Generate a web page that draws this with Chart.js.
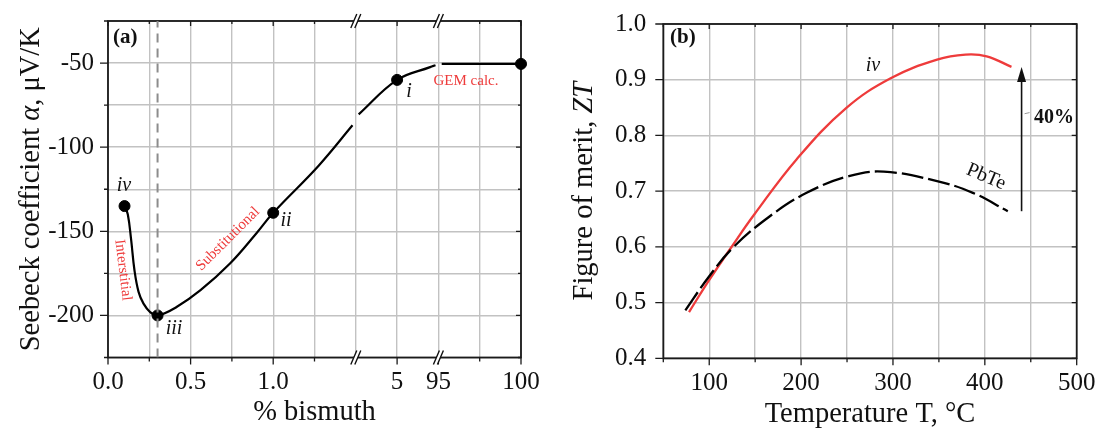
<!DOCTYPE html>
<html lang="en">
<head>
<meta charset="UTF-8">
<title>Seebeck coefficient and ZT of Bi-doped PbTe</title>
<script src="https://cdn.jsdelivr.net/npm/chart.js"></script>
<style>
    body { margin: 0; background: #fff; }
    #wrap { position: relative; width: 1102px; height: 431px; }
    canvas { position: absolute; top: 0; }
    #seebeckChart { left: 0; }
    #ztChart { left: 550px; }
</style>
</head>
<body>
<div id="wrap">
    <canvas id="seebeckChart" width="550" height="431"></canvas>
    <canvas id="ztChart" width="552" height="431"></canvas>
</div>
<script>
// (a) Seebeck coefficient against % bismuth (null = axis break)
const bismuthPct = [0.10, 0.12, 0.14, 0.16, 0.185, 0.215, 0.255, 0.30, 0.415, 0.56, 0.74, 0.90, 1.00, 1.275, 1.48, 1.5, 1.745, 5, 77, 88.7, 95, 95.2, 100];
const seebeck    = [-135, -140, -155, -173, -186, -193, -198, -200, -195, -185, -169, -151, -139, -111, -87, null, -80.5, -60, -52.4, -51.3, null, -50.5, -50.5];
const pointPct     = [0.10, 0.30, 1.00, 5, 100];
const pointSeebeck = [-135, -200, -139, -60, -50.5];
const xTickLabels  = ['0.0', '', '0.5', '', '1.0', '', '', '5', '95', '', '100'];
const solubilityPct = 0.3;

// (b) figure of merit against temperature
const tempIv   = [78, 99, 126, 149, 195, 249, 298, 348, 379, 402, 429];
const ztIv     = [0.483, 0.538, 0.604, 0.658, 0.757, 0.849, 0.903, 0.936, 0.945, 0.942, 0.923];
const tempPbTe = [74, 99, 126, 166, 206, 252, 290, 348, 387, 425];
const ztPbTe   = [0.486, 0.545, 0.599, 0.655, 0.697, 0.727, 0.735, 0.718, 0.697, 0.664];
const arrowT = 440, arrowFrom = 0.664, arrowTo = 0.923;

const SERIF = "'Liberation Serif', 'Times New Roman', serif";
const RED = '#ee3b3b';
Chart.defaults.font.family = SERIF;
Chart.defaults.color = '#111';

// broken axis: 0-1.5 % at 0.25 per division, 1.5-5 and 5-95 squeezed, 95-100 over two divisions
function axisPos(p) {
    if (p <= 1.5) return p / 0.25;
    if (p <= 5) return 6 + (p - 1.5) / 3.5;
    if (p <= 95) return 7 + (p - 5) / 90;
    return 8 + (p - 95) / 2.5;
}

function drawFrame(chart, majorX, majorY) {
    const { ctx, chartArea: a, scales: { x, y } } = chart;
    ctx.save();
    ctx.strokeStyle = '#1a1a1a';
    ctx.lineWidth = 1.3;
    ctx.beginPath();
    x.ticks.forEach(t => {
        const px = x.getPixelForValue(t.value);
        const big = majorX(t.value);
        ctx.moveTo(px, a.bottom); ctx.lineTo(px, a.bottom + (big ? 7 : 4));
        ctx.moveTo(px, a.top); ctx.lineTo(px, a.top + (big ? 5 : 3));
    });
    y.ticks.forEach(t => {
        const py = y.getPixelForValue(t.value);
        const big = majorY(t.value);
        ctx.moveTo(a.left, py); ctx.lineTo(a.left - (big ? 8 : 4), py);
        ctx.moveTo(a.right, py); ctx.lineTo(a.right - (big ? 5 : 3), py);
    });
    ctx.stroke();
    ctx.lineWidth = 1.8;
    ctx.strokeRect(a.left, a.top, a.right - a.left, a.bottom - a.top);
    ctx.restore();
}

function richText(ctx, parts, cx, cy, rot, align) {
    ctx.save();
    ctx.translate(cx, cy);
    ctx.rotate(rot || 0);
    ctx.textBaseline = 'middle';
    ctx.textAlign = 'left';
    let total = 0;
    parts.forEach(p => { ctx.font = p[1]; total += ctx.measureText(p[0]).width; });
    let x = align === 'left' ? 0 : -total / 2;
    parts.forEach(p => {
        ctx.font = p[1];
        ctx.fillStyle = p[2] || '#111';
        ctx.fillText(p[0], x, 0);
        x += ctx.measureText(p[0]).width;
    });
    ctx.restore();
}

function breakMark(ctx, x, y) {
    ctx.save();
    ctx.fillStyle = '#fff';
    ctx.beginPath();
    ctx.moveTo(x - 5, y + 7); ctx.lineTo(x + 1, y - 7);
    ctx.lineTo(x + 5, y - 7); ctx.lineTo(x - 1, y + 7);
    ctx.closePath();
    ctx.fill();
    ctx.strokeStyle = '#111';
    ctx.lineWidth = 1.4;
    ctx.beginPath();
    ctx.moveTo(x - 5, y + 7); ctx.lineTo(x + 1, y - 7);
    ctx.moveTo(x - 1, y + 7); ctx.lineTo(x + 5, y - 7);
    ctx.stroke();
    ctx.restore();
}

const gridStyle = { color: '#c2c2c2', lineWidth: 1.4, tickLength: 8, tickColor: 'rgba(0,0,0,0)' };
const tickFont = { family: SERIF, size: 25 };
const TITLE = '28.5px ' + SERIF, TITLE_IT = 'italic 28.5px ' + SERIF;

// ---------- (a) ----------
const seebeckPlugin = {
    id: 'seebeckDecor',
    beforeDatasetsDraw(chart) {
        drawFrame(chart, v => [0, 2, 4, 7, 8, 10].includes(Math.round(v)), v => v % 50 === 0);
    },
    afterDatasetsDraw(chart) {
        const { ctx, chartArea: a, scales: { x } } = chart;
        [6, 8].forEach(d => {
            breakMark(ctx, x.getPixelForValue(d), a.top);
            breakMark(ctx, x.getPixelForValue(d), a.bottom);
        });
        const it = 'italic 20px ' + SERIF;
        richText(ctx, [['(a)', 'bold 21px ' + SERIF]], 113, 38, 0, 'left');
        richText(ctx, [['iv', it]], 124, 186);
        richText(ctx, [['iii', it]], 174, 329);
        richText(ctx, [['ii', it]], 286, 221);
        richText(ctx, [['i', it]], 409, 92);
        const rf = '15px ' + SERIF;
        richText(ctx, [['GEM calc.', rf, RED]], 466, 81);
        richText(ctx, [['Interstitial', rf, RED]], 123, 270, 83 * Math.PI / 180);
        richText(ctx, [['Substitutional', rf, RED]], 228, 239, -45 * Math.PI / 180);
        richText(ctx, [['Seebeck coefficient ', TITLE], ['\u03b1', TITLE_IT], [', \u03bcV/K', TITLE]], 32, (a.top + a.bottom) / 2, -Math.PI / 2);
        richText(ctx, [['% bismuth', TITLE]], (a.left + a.right) / 2, 413);
    }
};

new Chart(document.getElementById('seebeckChart'), {
    type: 'line',
    data: {
        datasets: [
            {
                data: [{ x: axisPos(solubilityPct), y: -225 }, { x: axisPos(solubilityPct), y: -25 }],
                borderColor: '#8c8c8c', borderWidth: 2, borderDash: [9, 6], pointRadius: 0
            },
            {
                data: bismuthPct.map((p, i) => ({ x: axisPos(p), y: seebeck[i] })),
                borderColor: '#000', borderWidth: 2.2, pointRadius: 0,
                tension: 0.4, spanGaps: false
            },
            {
                data: pointPct.map((p, i) => ({ x: axisPos(p), y: pointSeebeck[i] })),
                showLine: false, pointRadius: 5.5, pointBackgroundColor: '#000',
                pointBorderColor: '#000', clip: false
            }
        ]
    },
    options: {
        responsive: false,
        animation: false,
        layout: { padding: { top: 21, right: 29, left: 0, bottom: 0 } },
        plugins: { legend: { display: false }, tooltip: { enabled: false } },
        scales: {
            x: {
                type: 'linear', min: 0, max: 10,
                grid: gridStyle, border: { display: false },
                ticks: {
                    stepSize: 1, autoSkip: false, maxRotation: 0, font: tickFont, padding: 2,
                    callback: v => xTickLabels[Math.round(v)]
                },
                afterFit: s => { s.height = 73.5; }
            },
            y: {
                min: -225, max: -25,
                grid: gridStyle, border: { display: false },
                ticks: {
                    stepSize: 25, font: tickFont, padding: 6,
                    callback: v => (v % 50 === 0 ? v : '')
                },
                afterFit: s => { s.width = 108; }
            }
        }
    },
    plugins: [seebeckPlugin]
});

// ---------- (b) ----------
const ztPlugin = {
    id: 'ztDecor',
    beforeDatasetsDraw(chart) {
        drawFrame(chart, v => v % 100 === 0, v => Math.round(v * 100) % 10 === 0);
    },
    afterDatasetsDraw(chart) {
        const { ctx, chartArea: a, scales: { x, y } } = chart;
        // arrow from PbTe to iv
        const ax = x.getPixelForValue(arrowT);
        const y0 = y.getPixelForValue(arrowFrom), y1 = y.getPixelForValue(arrowTo);
        ctx.save();
        ctx.strokeStyle = '#111';
        ctx.fillStyle = '#111';
        ctx.lineWidth = 1.6;
        ctx.beginPath();
        ctx.moveTo(ax, y0); ctx.lineTo(ax, y1 + 12);
        ctx.stroke();
        ctx.beginPath();
        ctx.moveTo(ax, y1); ctx.lineTo(ax - 4.5, y1 + 15); ctx.lineTo(ax + 4.5, y1 + 15);
        ctx.closePath();
        ctx.fill();
        ctx.strokeStyle = '#999';
        ctx.lineWidth = 1;
        ctx.beginPath();
        ctx.moveTo(ax + 3, y.getPixelForValue(0.839)); ctx.lineTo(ax + 8, y.getPixelForValue(0.841));
        ctx.stroke();
        ctx.restore();

        richText(ctx, [['(b)', 'bold 21px ' + SERIF]], 120, 38, 0, 'left');
        richText(ctx, [['40%', 'bold 20px ' + SERIF]], 484, 118, 0, 'left');
        richText(ctx, [['iv', 'italic 20px ' + SERIF]], 323, 66);
        richText(ctx, [['PbTe', '20px ' + SERIF]], 436, 177, 23 * Math.PI / 180);
        richText(ctx, [['Figure of merit, ', TITLE], ['ZT', TITLE_IT]], 35, (a.top + a.bottom) / 2, -Math.PI / 2);
        richText(ctx, [['Temperature T, \u00b0C', TITLE]], (a.left + a.right) / 2, 415);
    }
};

new Chart(document.getElementById('ztChart'), {
    type: 'line',
    data: {
        datasets: [
            {
                data: tempPbTe.map((t, i) => ({ x: t, y: ztPbTe[i] })),
                borderColor: '#000', borderWidth: 2.3, borderDash: [22, 5], pointRadius: 0,
                tension: 0.4
            },
            {
                data: tempIv.map((t, i) => ({ x: t, y: ztIv[i] })),
                borderColor: RED, borderWidth: 2.3, pointRadius: 0,
                tension: 0.4
            }
        ]
    },
    options: {
        responsive: false,
        animation: false,
        layout: { padding: { top: 21.7, right: 25.3, left: 0, bottom: 0 } },
        plugins: { legend: { display: false }, tooltip: { enabled: false } },
        scales: {
            x: {
                type: 'linear', min: 50, max: 500,
                grid: gridStyle, border: { display: false },
                ticks: {
                    stepSize: 50, autoSkip: false, maxRotation: 0, font: tickFont, padding: 2,
                    callback: v => (v % 100 === 0 ? v : '')
                },
                afterFit: s => { s.height = 72.7; }
            },
            y: {
                min: 0.4, max: 1.0,
                grid: gridStyle, border: { display: false },
                ticks: {
                    stepSize: 0.05, font: tickFont, padding: 9,
                    callback: v => (Math.round(v * 100) % 10 === 0 ? v.toFixed(1) : '')
                },
                afterFit: s => { s.width = 113.3; }
            }
        }
    },
    plugins: [ztPlugin]
});
</script>
</body>
</html>
